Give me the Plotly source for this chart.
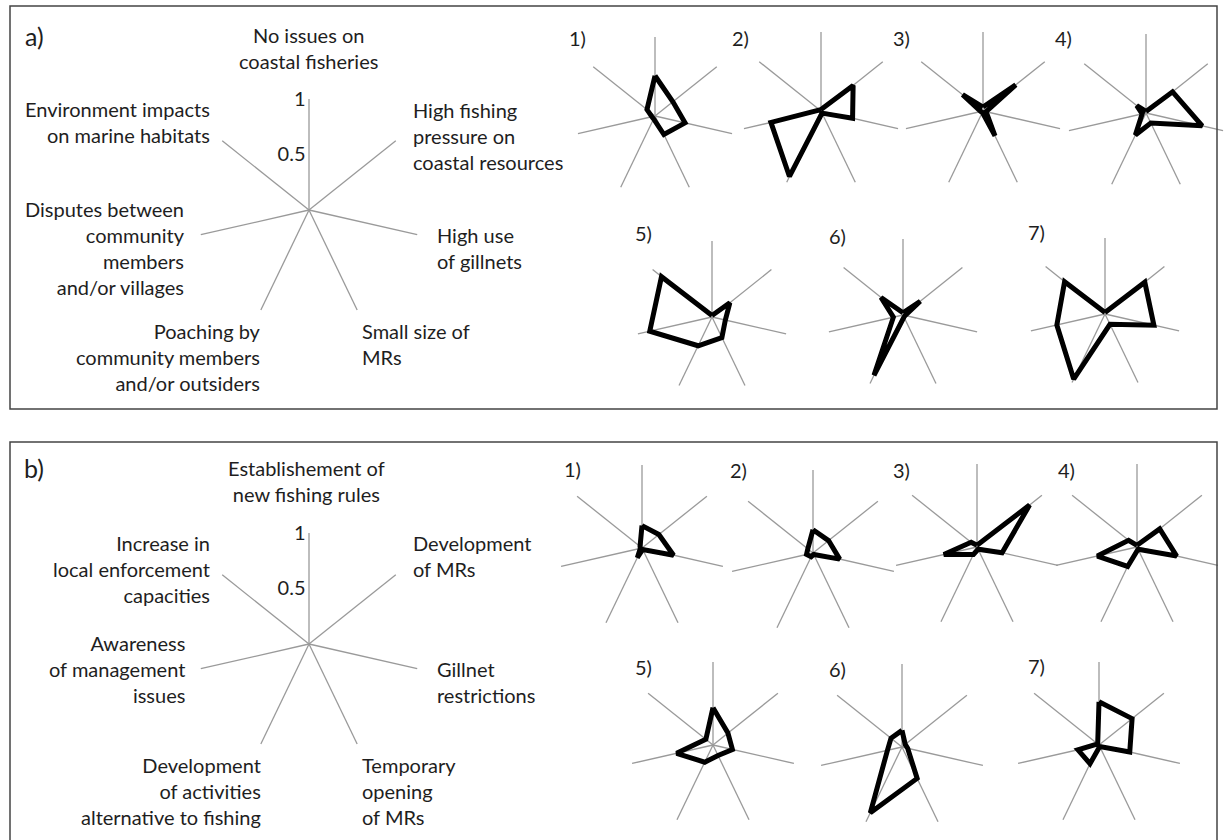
import plotly.graph_objects as go

W, H = 1227, 840

# ---------------- data ----------------
labels_a = [
    "No issues on<br>coastal fisheries",
    "High fishing<br>pressure on<br>coastal resources",
    "High use<br>of gillnets",
    "Small size of<br>MRs",
    "Poaching by<br>community members<br>and/or outsiders",
    "Disputes between<br>community<br>members<br>and/or villages",
    "Environment impacts<br>on marine habitats",
]
labels_b = [
    "Establishement of<br>new fishing rules",
    "Development<br>of MRs",
    "Gillnet<br>restrictions",
    "Temporary<br>opening<br>of MRs",
    "Development<br>of activities<br>alternative to fishing",
    "Awareness<br>of management<br>issues",
    "Increase in<br>local enforcement<br>capacities",
]
site_names = ["1)", "2)", "3)", "4)", "5)", "6)", "7)"]
key_ticks = [0.5, 1]
key_ticktext = ["0.5", "1"]

a1 = [0.51, 0.29, 0.39, 0.26, 0.04, 0.04, 0.13]
a2 = [0.02, 0.52, 0.41, 0.03, 0.92, 0.65, 0.02]
a3 = [0.05, 0.53, 0.04, 0.35, 0.02, 0.03, 0.33]
a4 = [0.02, 0.43, 0.73, 0.14, 0.31, 0.05, 0.15]
a5 = [0.02, 0.30, 0.18, 0.30, 0.42, 0.84, 0.85]
a6 = [0.03, 0.29, 0.03, 0.03, 0.88, 0.13, 0.37]
a7 = [0.02, 0.67, 0.66, 0.15, 0.95, 0.65, 0.68]

b1 = [0.27, 0.26, 0.39, 0.02, 0.13, 0.02, 0.03]
b2 = [0.28, 0.24, 0.33, 0.02, 0.05, 0.08, 0.08]
b3 = [0.02, 0.81, 0.31, 0.03, 0.10, 0.41, 0.09]
b4 = [0.02, 0.35, 0.49, 0.03, 0.26, 0.49, 0.13]
b5 = [0.45, 0.23, 0.24, 0.14, 0.23, 0.45, 0.11]
b6 = [0.20, 0.05, 0.07, 0.42, 0.88, 0.18, 0.17]
b7 = [0.52, 0.51, 0.38, 0.02, 0.25, 0.26, 0.02]

series_a = [a1, a2, a3, a4, a5, a6, a7]
series_b = [b1, b2, b3, b4, b5, b6, b7]

# ---------------- layout geometry (pixels) ----------------
key_a = (309, 210, 111)
key_b = (309, 644, 111)
small_a = [(655, 116, 79), (821, 111, 79), (983, 111, 79), (1146, 113, 79),
           (712, 317, 76), (903, 315, 76), (1105, 314, 76)]
small_b = [(642, 548, 83), (813, 553, 83), (977, 547, 83), (1137, 547, 83),
           (713, 745, 83), (902, 747, 83), (1099, 745, 83)]
num_pos_a = [(577, 38), (740, 38), (902, 38), (1063, 38),
             (643, 233), (837, 236), (1036, 232)]
num_pos_b = [(572, 469), (738, 470), (902, 470), (1066, 470),
             (643, 667), (837, 669), (1036, 666)]

# label anchor positions for key radars: (x, y, xanchor)
lab_pos_a = [(308, 48, "center"), (411, 136, "left"), (435, 248, "left"),
             (360, 344, "left"), (263, 357, "right"), (187, 248, "right"),
             (212, 122, "right")]
lab_pos_b = [(306, 481, "center"), (411, 556, "left"), (435, 682, "left"),
             (360, 791, "left"), (263, 791, "right"), (187, 669, "right"),
             (212, 569, "right")]

FONT = "Lato, Open Sans, sans-serif"
FS = 20
GRID = "#9a9a9a"
TXT = "#1e1e1e"


def px(x):
    return x / W


def py(y):
    return 1 - y / H


def dom(cx, cy, r):
    return dict(x=[px(cx - r), px(cx + r)], y=[py(cy + r), py(cy - r)])


fig = go.Figure()
layout = {}
annotations = []
idx = 0


def add_polar(cx, cy, r, cats, values=None, key=False):
    global idx
    idx += 1
    name = "polar" if idx == 1 else f"polar{idx}"
    radial = dict(range=[0, 1], showgrid=False, showline=False, ticks="",
                  showticklabels=False)
    if key:
        radial.update(showticklabels=True, tickvals=key_ticks,
                      ticktext=key_ticktext, angle=90, side="counterclockwise",
                      tickangle=90,
                      tickfont=dict(family=FONT, size=FS, color=TXT))
    layout[name] = dict(
        domain=dom(cx, cy, r),
        bgcolor="rgba(0,0,0,0)",
        angularaxis=dict(type="category", categoryarray=cats,
                         rotation=90, direction="clockwise",
                         showgrid=True, gridcolor=GRID, gridwidth=1.3,
                         showline=False, ticks="", showticklabels=False),
        radialaxis=radial,
    )
    if values is not None:
        fig.add_trace(go.Scatterpolar(
            r=values + [values[0]], theta=cats + [cats[0]],
            mode="lines", line=dict(color="black", width=5),
            subplot=name, showlegend=False, hoverinfo="skip"))
    else:
        fig.add_trace(go.Scatterpolar(
            r=[0] * len(cats), theta=cats, mode="markers",
            marker=dict(size=0.1, color="rgba(0,0,0,0)"),
            subplot=name, showlegend=False, hoverinfo="skip"))


# panel a
add_polar(*key_a, labels_a, key=True)
for (cx, cy, r), vals in zip(small_a, series_a):
    add_polar(cx, cy, r, labels_a, vals)
# panel b
add_polar(*key_b, labels_b, key=True)
for (cx, cy, r), vals in zip(small_b, series_b):
    add_polar(cx, cy, r, labels_b, vals)

# key labels
for labels, positions in ((labels_a, lab_pos_a), (labels_b, lab_pos_b)):
    for text, (x, y, anc) in zip(labels, positions):
        annotations.append(dict(
            x=px(x), y=py(y), xref="paper", yref="paper", text=text,
            showarrow=False, xanchor=anc, yanchor="middle", align=anc,
            font=dict(family=FONT, size=FS, color=TXT)))

# site numbers
for positions in (num_pos_a, num_pos_b):
    for text, (x, y) in zip(site_names, positions):
        annotations.append(dict(
            x=px(x), y=py(y), xref="paper", yref="paper", text=text,
            showarrow=False, xanchor="center", yanchor="middle",
            font=dict(family=FONT, size=FS, color=TXT)))

# panel letters
for text, (x, y) in (("a)", (34, 36)), ("b)", (34, 468))):
    annotations.append(dict(
        x=px(x), y=py(y), xref="paper", yref="paper", text=text,
        showarrow=False, xanchor="center", yanchor="middle",
        font=dict(family=FONT, size=25, color=TXT)))

shapes = [
    dict(type="rect", xref="paper", yref="paper",
         x0=px(10), x1=px(1217), y0=py(409), y1=py(6),
         line=dict(color="#444", width=1.5), fillcolor="rgba(0,0,0,0)"),
    dict(type="rect", xref="paper", yref="paper",
         x0=px(10), x1=px(1217), y0=py(846), y1=py(442),
         line=dict(color="#444", width=1.5), fillcolor="rgba(0,0,0,0)"),
]

fig.update_layout(
    width=W, height=H, margin=dict(l=0, r=0, t=0, b=0),
    paper_bgcolor="white", plot_bgcolor="white",
    annotations=annotations, shapes=shapes, showlegend=False,
    **layout,
)

fig.write_html("out.html",
               config={"displayModeBar": False, "staticPlot": True},
               post_script="document.body.style.margin='0';"
                           "document.body.style.overflow='hidden';")
